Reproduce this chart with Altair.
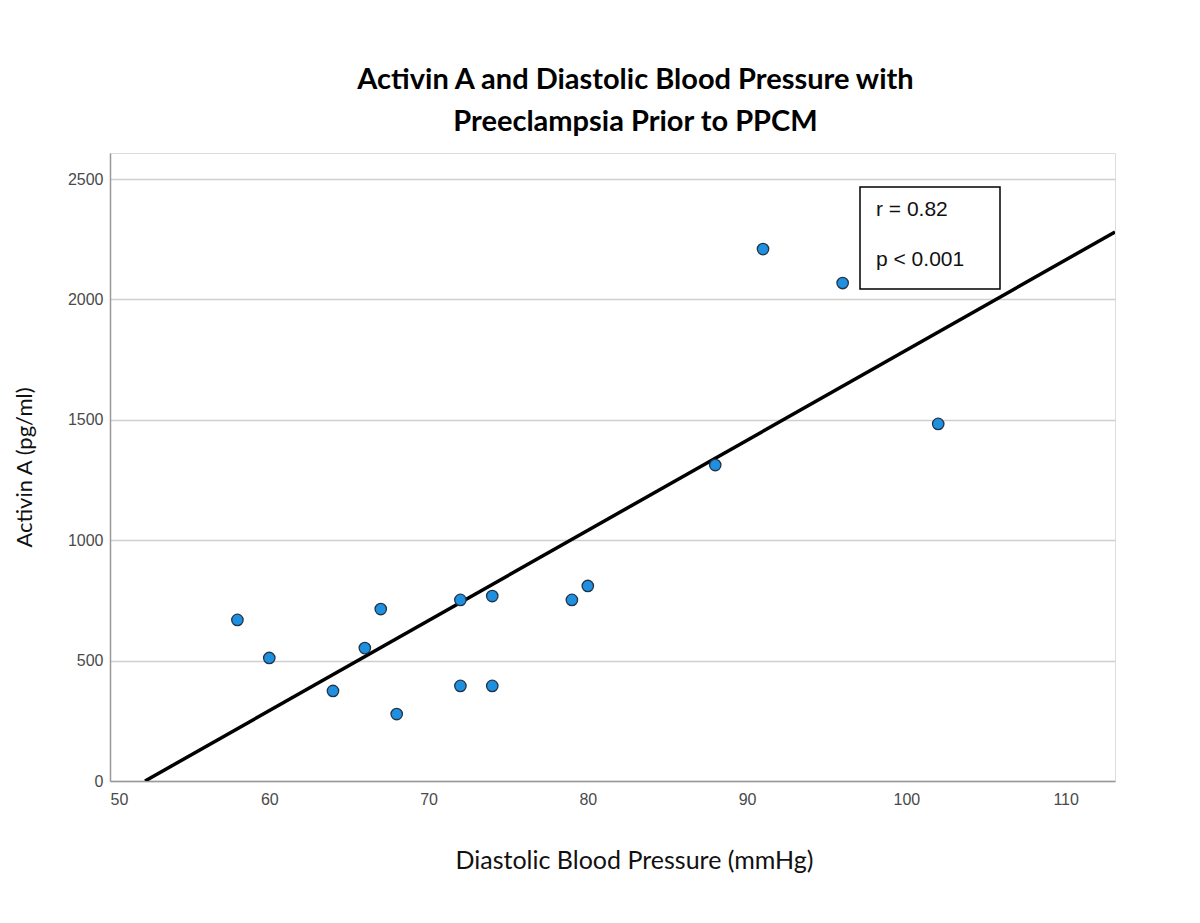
import altair as alt
import pandas as pd

# Data
dbp = [58, 60, 64, 66, 67, 68, 72, 72, 74, 74, 79, 80, 88, 91, 96, 102]
activin = [669, 511, 374, 552, 714, 278, 752, 395, 768, 395, 752, 810, 1312, 2209, 2068, 1483]

fit_x = [52.2, 113.1]
fit_y = [0, 2280]

stats_r = "r = 0.82"
stats_p = "p < 0.001"

pts = pd.DataFrame({"dbp": dbp, "activin": activin})
fit = pd.DataFrame({"dbp": fit_x, "activin": fit_y})

W, H = 1005, 628
XDOM = [50, 113.1]
YDOM = [0, 2608]

xscale = alt.Scale(domain=XDOM, nice=False, zero=False)
yscale = alt.Scale(domain=YDOM, nice=False, zero=False)

x_axis = alt.Axis(
    values=[50, 60, 70, 80, 90, 100, 110],
    format="d",
    grid=False,
    tickSize=0,
    labelPadding=10,
    labelFont="Liberation Sans",
    labelFontSize=16,
    labelColor="#4a4a4a",
    domainColor="#999999",
    domainWidth=1.5,
    title="Diastolic Blood Pressure (mmHg)",
    titleFont="Lato",
    titleFontSize=25,
    titleFontWeight="normal",
    titleColor="#111111",
    titleX=524,
    titleY=79,
    titleBaseline="middle",
    titleAlign="center",
)
y_axis = alt.Axis(
    values=[0, 500, 1000, 1500, 2000, 2500],
    format="d",
    grid=True,
    gridColor="#cfcfcf",
    gridWidth=1.5,
    tickSize=0,
    labelPadding=7,
    labelFont="Liberation Sans",
    labelFontSize=16,
    labelColor="#4a4a4a",
    domainColor="#999999",
    domainWidth=1.5,
    title="Activin A (pg/ml)",
    titleFont="Lato",
    titleFontSize=22,
    titleFontWeight="normal",
    titleColor="#111111",
    titleAngle=-90,
    titleX=-74,
    titleY=314,
    titleBaseline="bottom",
    titleAlign="center",
)

X = alt.X("dbp:Q", scale=xscale, axis=x_axis)
Y = alt.Y("activin:Q", scale=yscale, axis=y_axis)

line = alt.Chart(fit).mark_line(color="#000000", strokeWidth=3.5, clip=True).encode(x=X, y=Y)

points = alt.Chart(pts).mark_point(
    filled=True, shape="circle", size=130, fill="#1f8fe0", stroke="#233447",
    strokeWidth=1.3, opacity=1
).encode(x=X, y=Y)

box = alt.Chart(pd.DataFrame({"a": [0]})).mark_rect(
    fill="white", stroke="#000000", strokeWidth=1.5
).encode(
    x=alt.value(750), x2=alt.value(890), y=alt.value(34), y2=alt.value(136)
)

text_r = alt.Chart(pd.DataFrame({"label": [stats_r]})).mark_text(
    align="left", baseline="middle", font="Liberation Sans", fontSize=21, color="#111111"
).encode(x=alt.value(766), y=alt.value(57), text="label:N")

text_p = alt.Chart(pd.DataFrame({"label": [stats_p]})).mark_text(
    align="left", baseline="middle", font="Liberation Sans", fontSize=21, color="#111111"
).encode(x=alt.value(766), y=alt.value(107), text="label:N")

chart = alt.layer(line, points, box, text_r, text_p).properties(
    width=W,
    height=H,
    autosize=alt.AutoSizeParams(type="none"),
    padding={"left": 102, "top": 145, "right": 70, "bottom": 120},
    title=alt.TitleParams(
        text=["Activin A and Diastolic Blood Pressure with", "Preeclampsia Prior to PPCM"],
        font="Lato",
        fontSize=29,
        fontWeight="bold",
        color="#000000",
        anchor="middle",
        dx=23,
        lineHeight=42,
        offset=16,
    ),
).configure_view(stroke=None).configure(background="white")

chart.save("out.html", embed_options={"renderer": "svg", "actions": False})
